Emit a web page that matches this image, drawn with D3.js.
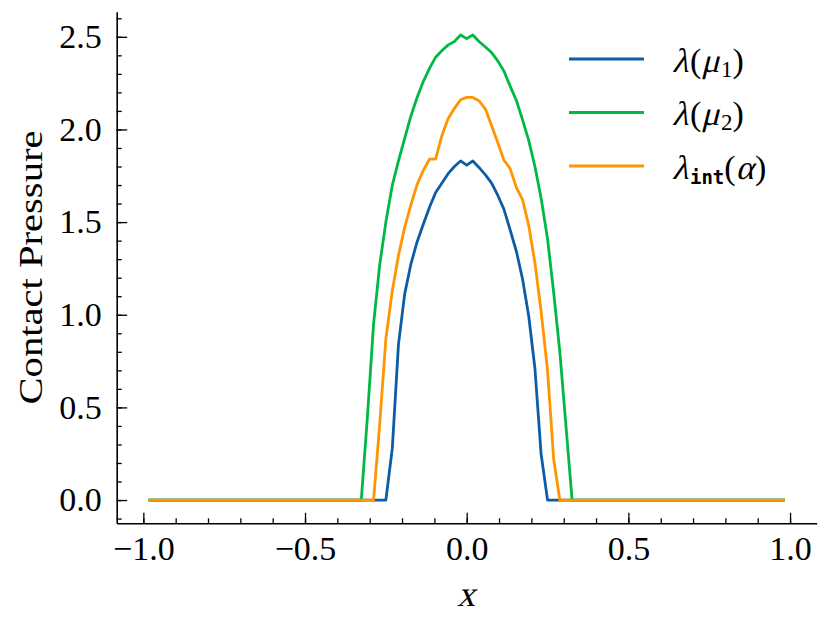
<!DOCTYPE html>
<html lang="en">
<head>
    <meta charset="UTF-8">
    <title>Contact Pressure</title>
    <style>
        body { margin: 0; background: #fff; }
        svg text { font-family: "Liberation Serif", serif; fill: #000; }
        .axis line, .axis path { stroke: #000; }
        .series { fill: none; stroke-width: 2.8px; stroke-linejoin: round; }
    </style>
    <script src="https://d3js.org/d3.v7.min.js"></script>
</head>
<body>
    <script>
        // grid points along x (flat zero parts only need their end points)
        const xs = [-0.984,
            -0.326, -0.307, -0.288, -0.269, -0.250, -0.230, -0.211, -0.192, -0.173,
            -0.154, -0.134, -0.115, -0.096, -0.077, -0.058, -0.038, -0.019, 0,
            0.019, 0.038, 0.058, 0.077, 0.096, 0.115, 0.134, 0.154, 0.173,
            0.192, 0.211, 0.230, 0.250, 0.269, 0.288, 0.307, 0.326,
            0.984];
        const lamMu1 = [0, 0, 0, 0, 0, 0,
            0.28, 0.84, 1.11, 1.27, 1.39, 1.49, 1.58, 1.66, 1.71, 1.76, 1.80, 1.83,
            1.807,
            1.83, 1.795, 1.755, 1.71, 1.645, 1.57, 1.46, 1.34, 1.19, 0.99, 0.71, 0.25,
            0, 0, 0, 0, 0, 0];
        const lamMu2 = [0, 0,
            0.45, 0.95, 1.27, 1.50, 1.70, 1.83, 1.95, 2.07, 2.17, 2.26, 2.33, 2.39,
            2.425, 2.455, 2.475, 2.51,
            2.49,
            2.51, 2.475, 2.445, 2.415, 2.37, 2.315, 2.235, 2.155, 2.05, 1.94, 1.80,
            1.63, 1.41, 1.12, 0.80, 0.40,
            0, 0];
        const lamInt = [0, 0, 0, 0,
            0.41, 0.87, 1.13, 1.32, 1.47, 1.59, 1.70, 1.78, 1.84, 1.84, 1.965, 2.056,
            2.114, 2.16,
            2.173,
            2.173, 2.155, 2.11, 2.02, 1.93, 1.835, 1.79, 1.685, 1.62, 1.48, 1.28,
            1.02, 0.70, 0.22,
            0, 0, 0, 0];

        const xTicks = [-1.0, -0.5, 0.0, 0.5, 1.0];
        const yTicks = [0.0, 0.5, 1.0, 1.5, 2.0, 2.5];
        const seriesColors = ["#0C5DA5", "#00B945", "#FF9500"];
        // legend labels as runs of math text: [text, italic, size, baseline shift, font]
        const legendLabels = [
            [["λ", true, 34, 0], ["(", false, 34, 0], ["μ", true, 34, 0], ["1", false, 23, 5], [")", false, 34, 0]],
            [["λ", true, 34, 0], ["(", false, 34, 0], ["μ", true, 34, 0], ["2", false, 23, 5], [")", false, 34, 0]],
            [["λ", true, 34, 0], ["int", false, 19, 5, "DejaVu Sans Mono"], ["(", false, 34, 0], ["α", true, 34, 0], [")", false, 34, 0]]
        ];

        const width = 829, height = 627;
        const plotLeft = 116.7, plotRight = 816.7, plotTop = 11.7, plotBottom = 523.3;

        const svg = d3.select("body").append("svg")
            .attr("width", width).attr("height", height);

        // matplotlib-like 5% margins
        const pad = ([a, b]) => [a - (b - a) * 0.05, b + (b - a) * 0.05];
        const x = d3.scaleLinear().domain(pad(d3.extent(xs))).range([plotLeft, plotRight]);
        const allY = lamMu1.concat(lamMu2, lamInt);
        const y = d3.scaleLinear().domain(pad(d3.extent(allY))).range([plotBottom, plotTop]);

        // minor ticks
        svg.append("g").attr("class", "axis")
            .attr("transform", `translate(0,${plotBottom})`)
            .call(d3.axisBottom(x).tickValues(x.ticks(20)).tickSizeInner(-5).tickSizeOuter(0).tickFormat(""))
            .call(g => g.select(".domain").remove())
            .selectAll("line").attr("stroke-width", 1.3);
        svg.append("g").attr("class", "axis")
            .attr("transform", `translate(${plotLeft},0)`)
            .call(d3.axisLeft(y).tickValues(y.ticks(25)).tickSizeInner(-5).tickSizeOuter(0).tickFormat(""))
            .call(g => g.select(".domain").remove())
            .selectAll("line").attr("stroke-width", 1.3);

        // major ticks + spines
        const fmt = d3.format(".1f");
        svg.append("g").attr("class", "axis")
            .attr("transform", `translate(0,${plotBottom})`)
            .call(d3.axisBottom(x).tickValues(xTicks).tickFormat(fmt)
                .tickSizeInner(-10.5).tickSizeOuter(0).tickPadding(12.5))
            .call(g => g.selectAll("line").attr("stroke-width", 1.3))
            .call(g => g.select(".domain").attr("stroke-width", 1.6))
            .call(g => g.selectAll("text").attr("font-size", 34));
        svg.append("g").attr("class", "axis")
            .attr("transform", `translate(${plotLeft},0)`)
            .call(d3.axisLeft(y).tickValues(yTicks).tickFormat(fmt)
                .tickSizeInner(-10.5).tickSizeOuter(0).tickPadding(15))
            .call(g => g.selectAll("line").attr("stroke-width", 1.3))
            .call(g => g.select(".domain").attr("stroke-width", 1.6))
            .call(g => g.selectAll("text").attr("font-size", 34));

        // lines
        const line = d3.line().x((d, i) => x(xs[i])).y(d => y(d));
        const data = [lamMu1, lamMu2, lamInt];
        svg.append("g").selectAll("path").data(data).enter().append("path")
            .attr("class", "series")
            .attr("stroke", (d, i) => seriesColors[i])
            .attr("d", line);

        // writes a row of text runs, slanting the italic ones by hand
        function mathText(g, x0, y0, runs) {
            let cx = x0;
            runs.forEach(([txt, italic, size, dy, family]) => {
                const t = g.append("text")
                    .attr("font-size", size)
                    .attr("transform", `translate(${cx},${y0 + dy})` + (italic ? " skewX(-14)" : ""))
                    .text(txt);
                if (family) t.style("font-family", `"${family}", monospace`).style("font-weight", "bold");
                cx += t.node().getComputedTextLength() + (italic ? 1.5 : 0);
            });
            return cx - x0;
        }

        // axis labels
        const xLab = svg.append("g");
        const xw = mathText(xLab, 0, 606, [["x", true, 36, 0]]);
        xLab.attr("transform", `translate(${(plotLeft + plotRight) / 2 - xw / 2},0)`);
        svg.append("text")
            .attr("transform", `translate(42,${(plotTop + plotBottom) / 2}) rotate(-90)`)
            .attr("text-anchor", "middle")
            .attr("font-size", 34)
            .attr("textLength", 274).attr("lengthAdjust", "spacingAndGlyphs")
            .text("Contact Pressure");

        // legend
        const legend = svg.append("g");
        const legY = [59, 112.5, 166];
        legendLabels.forEach((runs, i) => {
            legend.append("line")
                .attr("x1", 569).attr("x2", 644)
                .attr("y1", legY[i]).attr("y2", legY[i])
                .attr("stroke", seriesColors[i]).attr("stroke-width", 2.8);
            mathText(legend, 672, legY[i] + 12.5, runs);
        });
    </script>
</body>
</html>
